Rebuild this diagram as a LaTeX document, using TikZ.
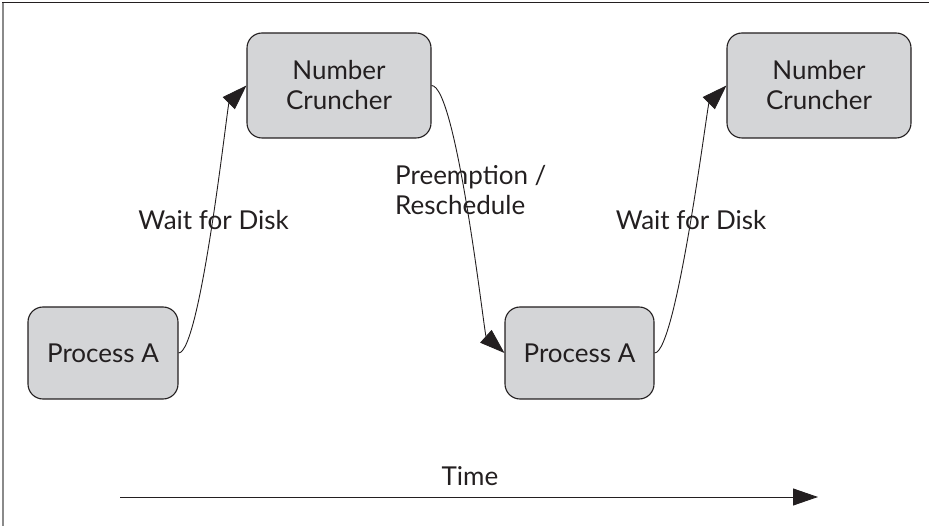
\documentclass[tikz,border=0pt]{standalone}
\usepackage{fontspec}
\setmainfont{Lato}
\usetikzlibrary{arrows.meta}
\definecolor{boxfill}{HTML}{D4D5D7}
\definecolor{ink}{HTML}{231F20}
\definecolor{framegray}{HTML}{8A8A8A}
\tikzset{
  procbox/.style={draw=ink, fill=boxfill, line width=1.1pt, rounded corners=15pt,
    align=center, inner sep=0pt, font=\fontsize{26}{30}\selectfont, text=ink},
  conn/.style={draw=ink, line width=0.9pt, -{Triangle[length=25pt,width=17pt]}},
  lbl/.style={font=\fontsize{26}{30}\selectfont, text=ink, inner sep=0pt},
}
\begin{document}
\begin{tikzpicture}[x=1pt,y=1pt]
\useasboundingbox (0,0) rectangle (929,-526);
% frame (top and left only)
\draw[ink, line width=1pt] (2,-3) -- (929,-3);
\draw[framegray, line width=1.6pt] (2.8,-3) -- (2.8,-526);
% boxes
\node[procbox, minimum width=150pt, minimum height=92pt] (pa1) at (103,-353) {Process A};
\node[procbox, minimum width=184pt, minimum height=105pt] (nc1) at (339,-85.5) {Number\\Cruncher};
\node[procbox, minimum width=149pt, minimum height=92pt] (pa2) at (579.5,-353) {Process A};
\node[procbox, minimum width=184pt, minimum height=105pt] (nc2) at (819,-85.5) {Number\\Cruncher};
% connectors
\draw[conn] (pa1.east) .. controls +(22,0) and +(-19,-19) .. (nc1.west);
\draw[conn] (nc1.east) .. controls +(25,0) and +(-20,18) .. (pa2.west);
\draw[conn] (pa2.east) .. controls +(22,0) and +(-19,-19) .. (nc2.west);
% labels
\node[lbl, anchor=base] (w1) at (213.5,-230) {Wait for Disk};
\node[lbl, anchor=base] (w2) at (691,-230) {Wait for Disk};
\node[lbl, anchor=base west, align=left] (pre) at (395,-215) {Preemption /\\Reschedule};
% time axis
\coordinate (tstart) at (120,-497);
\coordinate (tend) at (818,-497);
\draw[conn] (tstart) -- (tend);
\node[lbl, anchor=base] (time) at (470,-485) {Time};
\end{tikzpicture}
\end{document}
